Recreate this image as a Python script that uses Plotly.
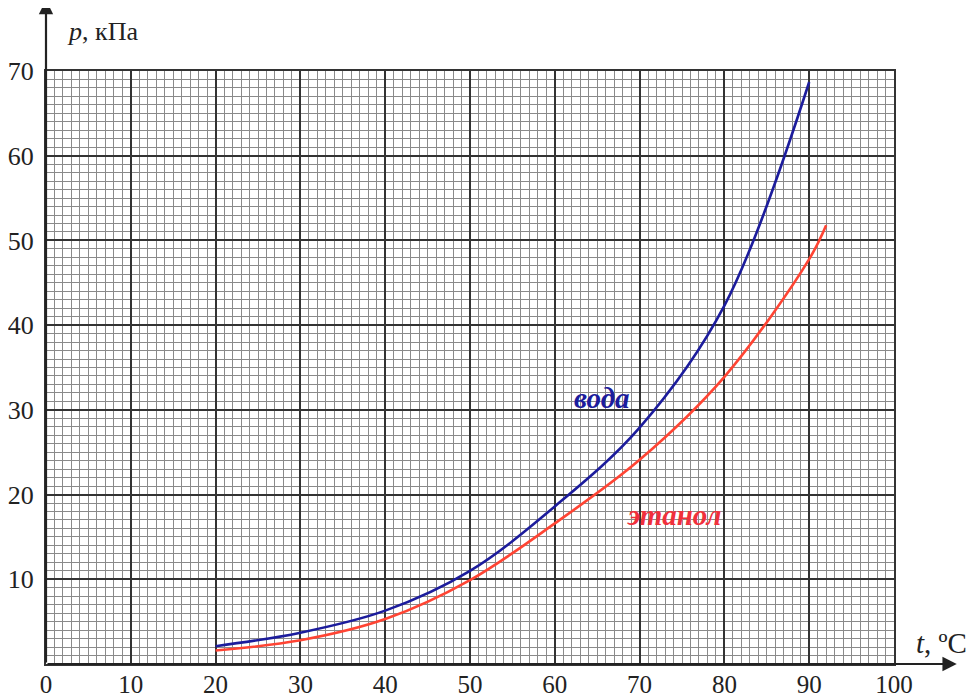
import plotly.graph_objects as go

# Data
water_t = [20, 30, 40, 50, 60, 70, 80, 90]
water_p = [2.1, 3.7, 6.3, 11.0, 18.6, 27.9, 42.3, 68.7]
ethanol_t = [20, 30, 40, 50, 60, 70, 80, 90, 92]
ethanol_p = [1.6, 2.8, 5.3, 9.9, 16.6, 24.1, 33.9, 47.8, 51.8]

x_ticks = [0, 10, 20, 30, 40, 50, 60, 70, 80, 90, 100]
y_ticks = [10, 20, 30, 40, 50, 60, 70]

BLUE = "#1c1c9c"
RED = "#ff4433"
FONT = "Liberation Serif, Times New Roman, serif"

fig = go.Figure()
fig.add_trace(go.Scatter(x=water_t, y=water_p, mode="lines",
                         line=dict(color=BLUE, width=2.6, shape="spline", smoothing=1.0),
                         showlegend=False, hoverinfo="skip"))
fig.add_trace(go.Scatter(x=ethanol_t, y=ethanol_p, mode="lines",
                         line=dict(color=RED, width=2.6, shape="spline", smoothing=1.0),
                         showlegend=False, hoverinfo="skip"))

axis_common = dict(
    showgrid=True, gridcolor="#333333", gridwidth=2,
    minor=dict(dtick=1, showgrid=True, gridcolor="#8a8a8a", gridwidth=1.3, ticks=""),
    zeroline=False, showline=True, linecolor="#333333", linewidth=2, mirror=True,
    ticks="", ticklen=0, tickfont=dict(family=FONT, size=26, color="#222"),
    automargin=False,
)

# The page adds an 8px body margin, so the figure is sized to fit the window
fig.update_layout(
    width=967, height=691,
    margin=dict(l=38, r=81, t=63, b=35),
    paper_bgcolor="white", plot_bgcolor="white",
    font=dict(family=FONT),
    xaxis=dict(range=[0, 100], tickvals=x_ticks, ticklabelstandoff=-3,
               **{**axis_common, "tickfont": dict(family=FONT, size=25, color="#222")}),
    yaxis=dict(range=[0, 70], tickvals=y_ticks, ticklabelstandoff=5, **axis_common),
)

# Axis arrows
fig.add_annotation(x=0, y=78.4, ax=0, ay=0, xref="x", yref="y", axref="x", ayref="y",
                   showarrow=True, arrowhead=2, arrowsize=1.3, arrowwidth=2.2,
                   arrowcolor="#222", text="")
fig.add_annotation(x=107.4, y=0, ax=0, ay=0, xref="x", yref="y", axref="x", ayref="y",
                   showarrow=True, arrowhead=2, arrowsize=1.3, arrowwidth=2.2,
                   arrowcolor="#222", text="")

# Axis titles
fig.add_annotation(x=0.022, y=1.066, xref="paper", yref="paper", xanchor="left", yanchor="middle",
                   text="<i>p</i>, кПа", showarrow=False,
                   font=dict(family=FONT, size=26, color="#222"))
fig.add_annotation(x=1.023, y=0.035, xref="paper", yref="paper", xanchor="left", yanchor="middle",
                   text="<i>t</i>, ºC", showarrow=False,
                   font=dict(family=FONT, size=29, color="#222"))

# Curve labels
fig.add_annotation(x=65.6, y=31.4, xref="x", yref="y", text="<b><i>вода</i></b>",
                   showarrow=False, font=dict(family=FONT, size=29, color=BLUE))
fig.add_annotation(x=74.0, y=17.6, xref="x", yref="y", text="<b><i>этанол</i></b>",
                   showarrow=False, font=dict(family=FONT, size=29, color="#f0303c"))

fig.write_html("out.html")
